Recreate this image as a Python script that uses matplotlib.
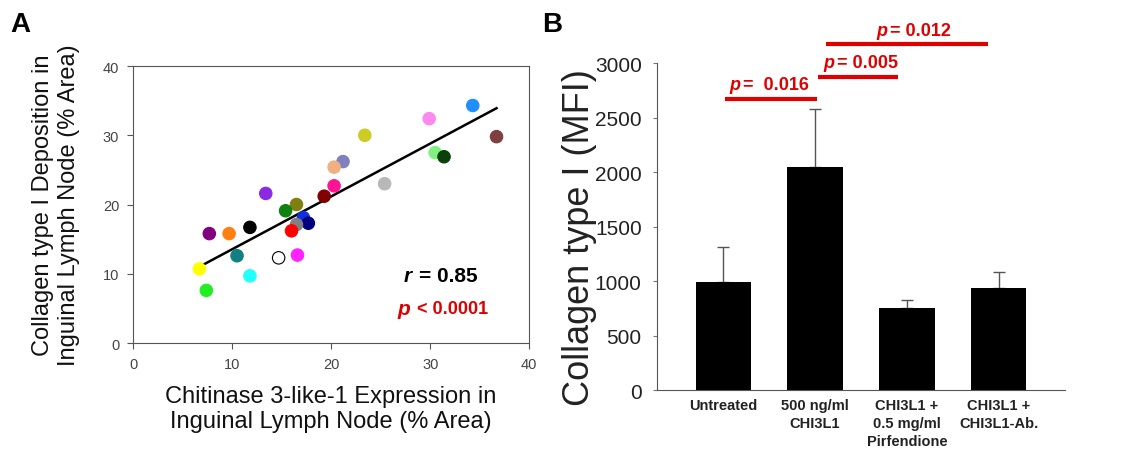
import numpy as np
import matplotlib
matplotlib.use("Agg")
import matplotlib.pyplot as plt

plt.rcParams['font.family'] = ['Liberation Sans', 'DejaVu Sans']

# Panel A data: CHI3L1 expression vs collagen deposition (% area)
chi_x = [34.3, 29.9, 36.7, 23.4, 30.5, 31.4, 21.2, 20.3, 25.4, 20.3, 13.4, 19.3, 16.5, 15.4,
         17.2, 17.7, 16.5, 16.0, 11.8, 7.7, 9.7, 10.5, 14.7, 16.6, 6.7, 11.8, 7.4]
col_y = [34.3, 32.4, 29.8, 30.0, 27.5, 26.9, 26.2, 25.4, 23.0, 22.7, 21.6, 21.2, 20.0, 19.1,
         18.1, 17.3, 17.1, 16.2, 16.7, 15.8, 15.8, 12.6, 12.3, 12.7, 10.7, 9.7, 7.6]
pt_colors = ['#1f8fff', '#ff88ee', '#7f3f3f', '#cccc22', '#80f080', '#0a400a', '#8080c0',
             '#f0b080', '#b8b8b8', '#ff1493', '#8a2be2', '#800000', '#808010', '#108010',
             '#1030e0', '#000080', '#808080', '#ff0000', '#000000', '#800080', '#ff8010',
             '#108080', 'white', '#ff22ff', '#ffff00', '#22ffff', '#22ee22']

# Panel B data
groups = ['Untreated', '500 ng/ml\nCHI3L1', 'CHI3L1 +\n0.5 mg/ml\nPirfendione', 'CHI3L1 +\nCHI3L1-Ab.']
mfi = [995, 2045, 752, 933]
mfi_err = [320, 530, 70, 150]
sig_pairs = [(0.02, 1.02, 2670, '=  0.016'),
             (1.03, 1.9, 2874, '= 0.005'),
             (1.12, 2.88, 3174, '= 0.012')]

fig = plt.figure(figsize=(11.43, 4.56), dpi=100)

# ---- panel A
axA = fig.add_axes([0.1164, 0.2456, 0.3466, 0.6074])
edge = ['black' if c == 'white' else c for c in pt_colors]
axA.scatter(chi_x, col_y, s=80, c=pt_colors, edgecolors=edge, linewidths=0.8, zorder=3)
slope, icpt = np.polyfit(chi_x, col_y, 1)
xs = np.array([min(chi_x), max(chi_x)])
axA.plot(xs, slope * xs + icpt, color='black', lw=1.8, zorder=2)
axA.set_xlim(0, 40)
axA.set_ylim(0, 40)
axA.set_xticks([0, 10, 20, 30, 40])
axA.set_yticks([0, 10, 20, 30, 40])
for s in axA.spines.values():
    s.set_color('#555555')
axA.tick_params(colors='#555555', labelcolor='#444444', labelsize=10.5, direction='out', length=4, pad=6)
axA.set_xlabel('Chitinase 3-like-1 Expression in\nInguinal Lymph Node (% Area)', fontsize=17,
               color='#111111', labelpad=10)
axA.set_ylabel('Collagen type I Deposition in\nInguinal Lymph Node (% Area)', fontsize=17, color='#111111')
axA.yaxis.set_label_coords(-0.135, 0.5)
axA.text(27.3, 9.8, 'r', fontsize=15, fontweight='bold', style='italic', va='center')
axA.annotate('= 0.85', xy=(27.3, 9.8), xytext=(11, 0), textcoords='offset points',
             fontsize=15, fontweight='bold', va='center')
axA.text(26.7, 5.0, 'p', fontsize=15, fontweight='bold', style='italic', color='#dd0000', va='center')
axA.annotate('< 0.0001', xy=(26.7, 5.0), xytext=(14, 0), textcoords='offset points',
             fontsize=13, fontweight='bold', color='#dd0000', va='center')

# ---- panel B
axB = fig.add_axes([0.5748, 0.1425, 0.357, 0.7171])
pos = np.arange(len(groups))
axB.bar(pos, mfi, width=0.6, color='black', zorder=2)
axB.errorbar(pos, mfi, yerr=[np.zeros(len(mfi)), mfi_err], fmt='none', ecolor='#555555',
             elinewidth=1, capsize=4, capthick=1, zorder=1)
axB.set_xlim(-0.72, 3.72)
axB.set_ylim(0, 3000)
axB.set_yticks(range(0, 3001, 500))
axB.set_xticks(pos)
axB.set_xticklabels(groups, fontsize=10.5, fontweight='bold', color='#222222', linespacing=1.35)
axB.spines['top'].set_visible(False)
axB.spines['right'].set_visible(False)
axB.spines['left'].set_color('#555555')
axB.spines['bottom'].set_color('#555555')
axB.tick_params(axis='y', labelsize=15, colors='#777777', labelcolor='#222222', length=3, pad=8)
axB.tick_params(axis='x', length=0, pad=6)
axB.set_ylabel('Collagen type I (MFI)', fontsize=26, color='#222222')
axB.yaxis.set_label_coords(-0.147, 0.47)
# small shifts of the p-value labels relative to their line centres (points)
txt_shift = [0, 5, 8]
for (x0, x1, yv, txt), dx in zip(sig_pairs, txt_shift):
    axB.plot([x0, x1], [yv, yv], color='#e00000', lw=3, clip_on=False, solid_capstyle='butt')
    xm = (x0 + x1) / 2
    axB.annotate('p', xy=(xm, yv), xytext=(-30 + dx, 4), textcoords='offset points',
                 ha='left', va='bottom', fontsize=13, fontweight='bold', style='italic',
                 color='#e00000', annotation_clip=False)
    axB.annotate(txt, xy=(xm, yv), xytext=(-20 + dx, 4), textcoords='offset points',
                 ha='left', va='bottom', fontsize=13, fontweight='bold', color='#e00000',
                 annotation_clip=False)

fig.text(0.009, 0.945, 'A', fontsize=20, fontweight='bold', va='center')
fig.text(0.474, 0.945, 'B', fontsize=20, fontweight='bold', va='center')

fig.savefig('out.png', dpi=100)
